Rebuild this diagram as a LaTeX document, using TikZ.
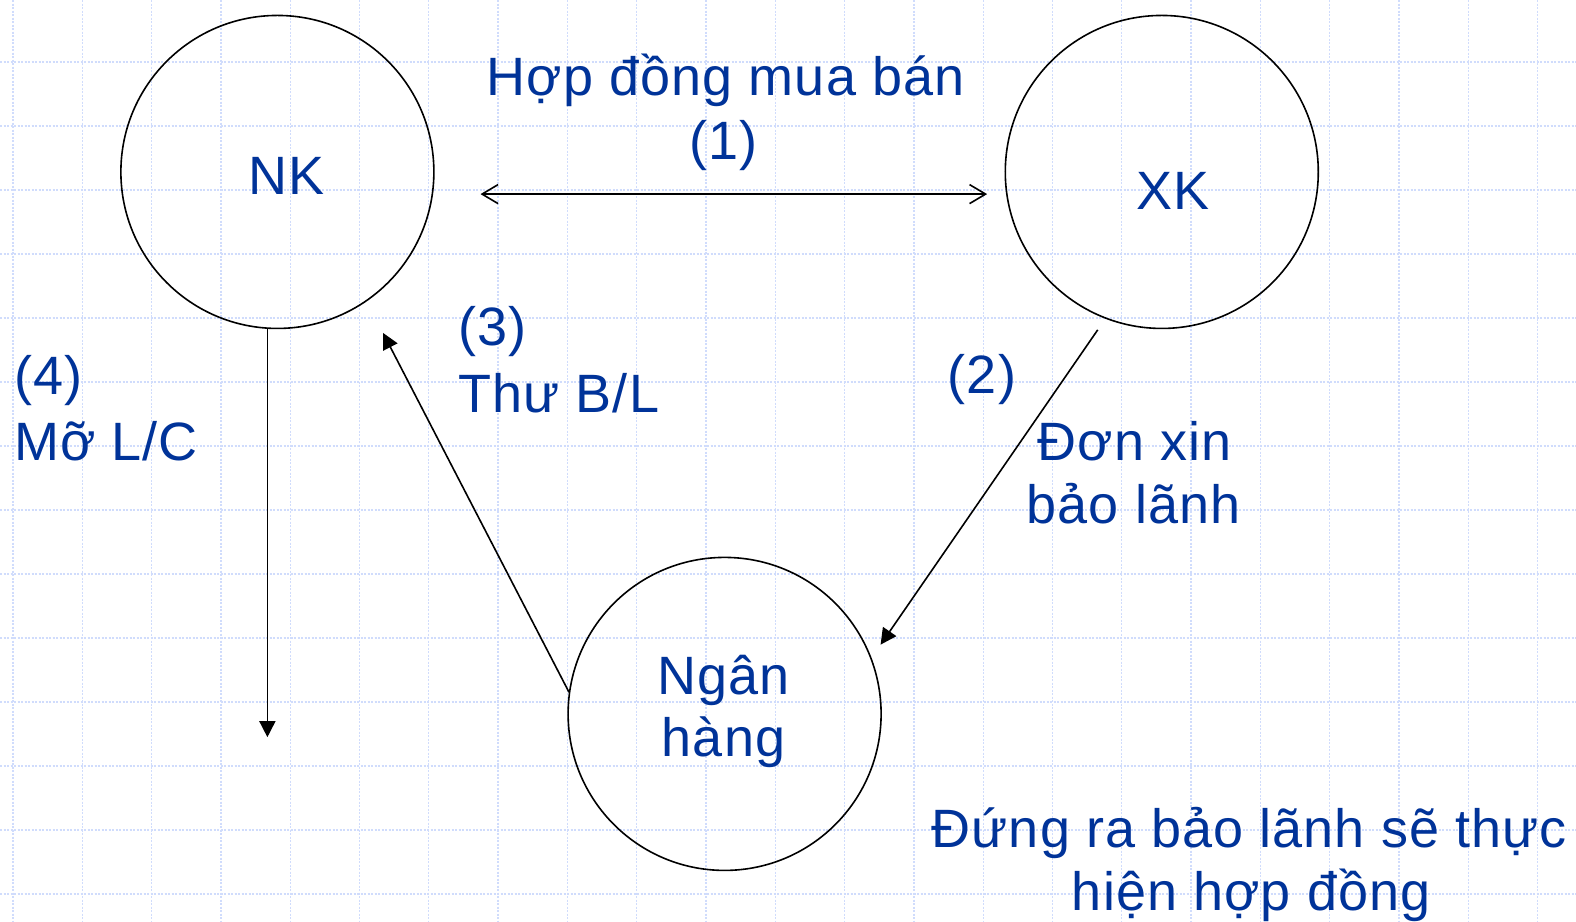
\documentclass[tikz,border=0pt]{standalone}
\usepackage{fontspec}
\setmainfont{Liberation Sans}[LetterSpace=2]
\usetikzlibrary{arrows.meta}
\definecolor{txtblue}{RGB}{0,51,153}
\definecolor{gridblue}{RGB}{208,220,252}
\tikzset{
  lbl/.style={inner sep=0pt, text=txtblue, font=\fontsize{54}{62}\selectfont},
  ring/.style={circle, draw=black, line width=1.6pt, minimum size=313pt, inner sep=0pt},
  conn/.style={draw=black, line width=1.6pt},
  filltip/.style={-{Triangle[length=16pt,width=16pt]}},
  opentip/.style={{Straight Barb[length=16pt,width=19pt,line width=1.6pt]}-{Straight Barb[length=16pt,width=19pt,line width=1.6pt]}},
  gridline/.style={draw=gridblue, line width=1.3pt, dash pattern=on 2pt off 1.5pt}
}
\begin{document}
\begin{tikzpicture}[x=1pt,y=-1pt]
\useasboundingbox (0,0) rectangle (1576,921);
\fill[white] (0,0) rectangle (1576,921);
% grid
\foreach \k in {0,...,22} {
  \path[gridline] ({13+69.3*\k},0) -- ({13+69.3*\k},921);
}
\foreach \k in {1,...,14} {
  \path[gridline] (0,{-2+64*\k}) -- (1576,{-2+64*\k});
}
\begin{scope}[xscale=1.005, yscale=1.0055]
% circles
\node[ring] (nk) at (276,171) {};
\node[ring] (xk) at (1156,171) {};
\node[ring] (bank) at (721,710) {};
% free ends
\coordinate (hdL) at (478,193);
\coordinate (hdR) at (982,193);
\coordinate (lcEnd) at (266,733);
\coordinate (blEnd) at (381,331);
\coordinate (dxStart) at (1092,328);
\coordinate (dxEnd) at (876,641);
% connectors
\draw[conn, opentip] (hdL) -- (hdR);
\draw[conn, filltip] (nk.south -| lcEnd) -- (lcEnd);
\draw[conn, filltip] (bank.172) -- (blEnd);
\draw[conn, filltip] (dxStart) -- (dxEnd);
% labels
\node[lbl, anchor=base] (t1a) at (722,95) {Hợp đồng mua bán};
\node[lbl, anchor=base] (t1b) at (720,159) {(1)};
\node[lbl, anchor=base] (tnk) at (285,193) {NK};
\node[lbl, anchor=base] (txk) at (1167,208) {XK};
\node[lbl, anchor=base west] (t3a) at (456,344) {(3)};
\node[lbl, anchor=base west] (t3b) at (456,410) {Thư B/L};
\node[lbl, anchor=base west] (t4a) at (14,392) {(4)};
\node[lbl, anchor=base west] (t4b) at (14,458) {Mỡ L/C};
\node[lbl, anchor=base west] (t2a) at (943,391) {(2)};
\node[lbl, anchor=base] (t2b) at (1129,458) {Đơn xin};
\node[lbl, anchor=base] (t2c) at (1128,521) {bảo lãnh};
\node[lbl, anchor=base] (tba) at (720,691) {Ngân};
\node[lbl, anchor=base] (tbb) at (720,752) {hàng};
\node[lbl, anchor=base] (tfa) at (1243,843) {Đứng ra bảo lãnh sẽ thực};
\node[lbl, anchor=base] (tfb) at (1245,906) {hiện hợp đồng};
\end{scope}
\end{tikzpicture}
\end{document}
